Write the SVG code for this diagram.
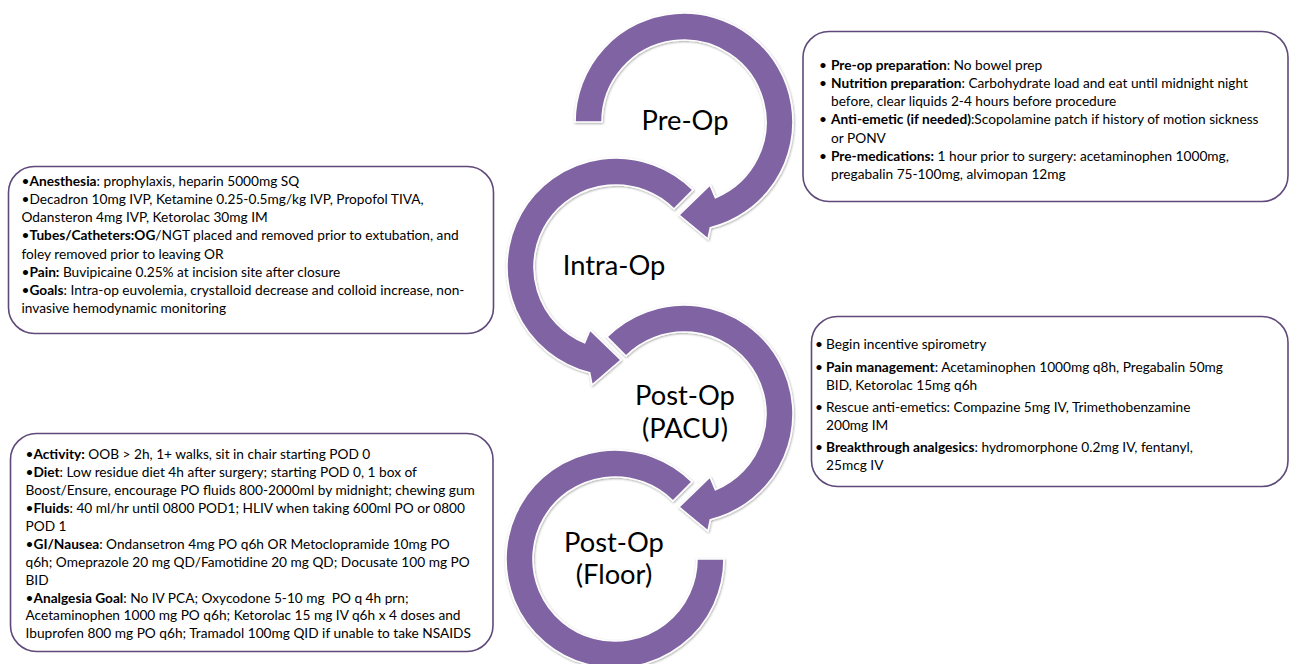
<svg xmlns="http://www.w3.org/2000/svg" width="1290" height="664" viewBox="0 0 1290 664">
<defs>
<filter id="sh" x="-10%" y="-10%" width="120%" height="120%">
<feDropShadow dx="0.6" dy="1" stdDeviation="0.9" flood-color="#000" flood-opacity="0.35"/>
</filter>
<style>
.arrow{fill:#8064A2;stroke:#ffffff;stroke-width:1.6;filter:url(#sh)}
.box{fill:#ffffff;stroke:#5F497A;stroke-width:1.6}
.lbl{font-family:Lato,"Liberation Sans",sans-serif;font-size:27.3px;fill:#000;text-anchor:middle}
.t{font-family:Lato,"Liberation Sans",sans-serif;font-size:13.7px;fill:#000}
.b{font-weight:bold}
</style>
</defs>
<rect width="1290" height="664" fill="#ffffff"/>

<g id="stage-preop">
<path class="arrow" d="M575,122 A109,109 0 1 1 710.37,227.76 L708,239 L679,215 L710,185 L715.38,197.76 A82,82 0 1 0 602,122 Z"/>
<text class="lbl" x="685" y="130">Pre-Op</text>
</g>
<g id="stage-intraop">
<path class="arrow" d="M693.07,189.93 A109,109 0 1 0 589.63,372.76 L592,385 L621,360 L590,330 L584.62,342.76 A82,82 0 1 1 673.98,209.02 Z"/>
<text class="lbl" x="614" y="275">Intra-Op</text>
</g>
<g id="stage-pacu">
<path class="arrow" d="M606.93,336.93 A109,109 0 1 1 710.37,519.76 L708,531 L679,507 L710,477 L715.38,489.76 A82,82 0 1 0 626.02,356.02 Z"/>
<text class="lbl" x="685" y="405">Post-Op</text>
<text class="lbl" x="685" y="438">(PACU)</text>
</g>
<g id="stage-floor">
<path class="arrow" d="M692.07,481.93 A109,109 0 1 0 724,559 L697,559 A82,82 0 1 1 672.98,501.02 Z"/>
<text class="lbl" x="614" y="552">Post-Op</text>
<text class="lbl" x="614" y="584">(Floor)</text>
</g>

<g id="box-preop">
<rect class="box" x="803" y="31.5" width="485" height="170" rx="26"/>
<text class="t" x="819" y="69.5">•</text>
<text class="t" x="831" y="69.5"><tspan class="b">Pre-op preparation</tspan>: No bowel prep</text>
<text class="t" x="819" y="87.8">•</text>
<text class="t" x="831" y="87.8"><tspan class="b">Nutrition preparation</tspan>: Carbohydrate load and eat until midnight night</text>
<text class="t" x="831" y="106.1">before, clear liquids 2-4 hours before procedure</text>
<text class="t" x="819" y="124.4">•</text>
<text class="t" x="831" y="124.4"><tspan class="b">Anti-emetic (if needed)</tspan>:Scopolamine patch if history of motion sickness</text>
<text class="t" x="831" y="142.7">or PONV</text>
<text class="t" x="819" y="161">•</text>
<text class="t" x="831" y="161"><tspan class="b">Pre-medications:</tspan> 1 hour prior to surgery: acetaminophen 1000mg,</text>
<text class="t" x="831" y="179.3">pregabalin 75-100mg, alvimopan 12mg</text>
</g>

<g id="box-intraop">
<rect class="box" x="8.5" y="166.5" width="485" height="167" rx="26"/>
<text class="t" x="21.5" y="185.7">•<tspan class="b">Anesthesia</tspan>: prophylaxis, heparin 5000mg SQ</text>
<text class="t" x="21.5" y="203.9">•Decadron 10mg IVP, Ketamine 0.25-0.5mg/kg IVP, Propofol TIVA,</text>
<text class="t" x="21.5" y="222.2">Odansteron 4mg IVP, Ketorolac 30mg IM</text>
<text class="t" x="21.5" y="240.4">•<tspan class="b">Tubes/Catheters:OG</tspan>/NGT placed and removed prior to extubation, and</text>
<text class="t" x="21.5" y="258.7">foley removed prior to leaving OR</text>
<text class="t" x="21.5" y="276.9">•<tspan class="b">Pain:</tspan> Buvipicaine 0.25% at incision site after closure</text>
<text class="t" x="21.5" y="295.2">•<tspan class="b">Goals</tspan>: Intra-op euvolemia, crystalloid decrease and colloid increase, non-</text>
<text class="t" x="21.5" y="313.4">invasive hemodynamic monitoring</text>
</g>

<g id="box-pacu">
<rect class="box" x="811.5" y="316.5" width="476.5" height="170" rx="26"/>
<text class="t" x="815" y="348.5">•</text>
<text class="t" x="826" y="348.5">Begin incentive spirometry</text>
<text class="t" x="815" y="371.5">•</text>
<text class="t" x="826" y="371.5"><tspan class="b">Pain management</tspan>: Acetaminophen 1000mg q8h, Pregabalin 50mg</text>
<text class="t" x="826" y="389.8">BID, Ketorolac 15mg q6h</text>
<text class="t" x="815" y="411.8">•</text>
<text class="t" x="826" y="411.8">Rescue anti-emetics: Compazine 5mg IV, Trimethobenzamine</text>
<text class="t" x="826" y="430.1">200mg IM</text>
<text class="t" x="815" y="452.1">•</text>
<text class="t" x="826" y="452.1"><tspan class="b">Breakthrough analgesics</tspan>: hydromorphone 0.2mg IV, fentanyl,</text>
<text class="t" x="826" y="470.4">25mcg IV</text>
</g>

<g id="box-floor">
<rect class="box" x="10.5" y="433.5" width="482.5" height="218" rx="26"/>
<text class="t" x="25.5" y="459.3">•<tspan class="b">Activity:</tspan> OOB &gt; 2h, 1+ walks, sit in chair starting POD 0</text>
<text class="t" x="25.5" y="477.2">•<tspan class="b">Diet</tspan>: Low residue diet 4h after surgery; starting POD 0, 1 box of</text>
<text class="t" x="25.5" y="495.1">Boost/Ensure, encourage PO fluids 800-2000ml by midnight; chewing gum</text>
<text class="t" x="25.5" y="513">•<tspan class="b">Fluids</tspan>: 40 ml/hr until 0800 POD1; HLIV when taking 600ml PO or 0800</text>
<text class="t" x="25.5" y="530.9">POD 1</text>
<text class="t" x="25.5" y="548.8">•<tspan class="b">GI/Nausea</tspan>: Ondansetron 4mg PO q6h OR Metoclopramide 10mg PO</text>
<text class="t" x="25.5" y="566.7">q6h; Omeprazole 20 mg QD/Famotidine 20 mg QD; Docusate 100 mg PO</text>
<text class="t" x="25.5" y="584.6">BID</text>
<text class="t" x="25.5" y="602.5">•<tspan class="b">Analgesia Goal</tspan>: No IV PCA; Oxycodone 5-10 mg&#160; PO q 4h prn;</text>
<text class="t" x="25.5" y="620.4">Acetaminophen 1000 mg PO q6h; Ketorolac 15 mg IV q6h x 4 doses and</text>
<text class="t" x="25.5" y="638.3">Ibuprofen 800 mg PO q6h; Tramadol 100mg QID if unable to take NSAIDS</text>
</g>
</svg>
